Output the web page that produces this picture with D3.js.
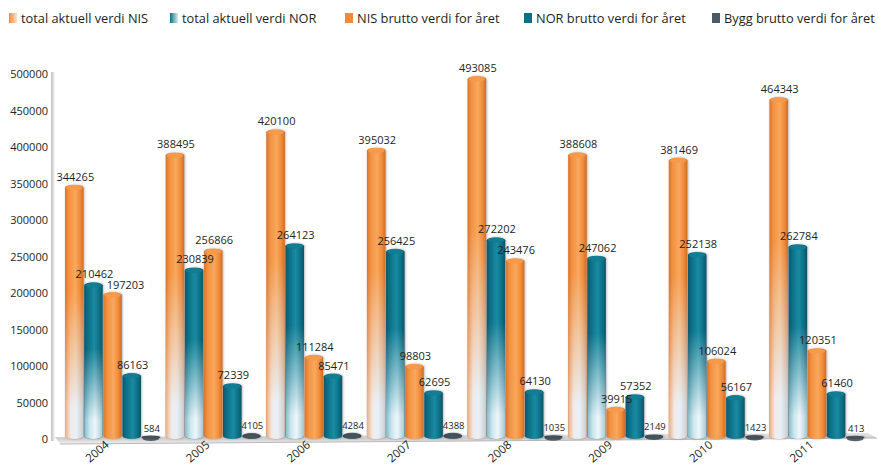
<!DOCTYPE html>
<html>
<head>
<meta charset="utf-8">
<script src="https://cdn.jsdelivr.net/npm/d3@7"></script>
<style>
  body { margin: 0; background: #fff; }
  svg { display: block; }
  text { font-family: "Open Sans", sans-serif; fill: #231f20; }
</style>
</head>
<body>
<svg id="chart" width="878" height="466"></svg>
<script>
// Yearly values (NOK)
const years = ["2004", "2005", "2006", "2007", "2008", "2009", "2010", "2011"];
const totalNIS   = [344265, 388495, 420100, 395032, 493085, 388608, 381469, 464343];
const totalNOR   = [210462, 230839, 264123, 256425, 272202, 247062, 252138, 262784];
const nisBrutto  = [197203, 256866, 111284, 98803, 243476, 39915, 106024, 120351];
const norBrutto  = [86163, 72339, 85471, 62695, 64130, 57352, 56167, 61460];
const byggBrutto = [584, 4105, 4284, 4388, 1035, 2149, 1423, 413];
const seriesNames = [
  "total aktuell verdi NIS",
  "total aktuell verdi NOR",
  "NIS brutto verdi for året",
  "NOR brutto verdi for året",
  "Bygg brutto verdi for året"
];
const yTicks = [0, 50000, 100000, 150000, 200000, 250000, 300000, 350000, 400000, 450000, 500000];

const seriesValues = [totalNIS, totalNOR, nisBrutto, norBrutto, byggBrutto];

const svg = d3.select("#chart");
const defs = svg.append("defs");

// Scales
const x = d3.scaleBand().domain(years).range([64, 866]).paddingInner(0.05).paddingOuter(0.01);
const xs = d3.scaleBand().domain(d3.range(seriesNames.length)).range([0, x.bandwidth()]);
const y = d3.scaleLinear().domain([0, 500000]).range([439, 74]);

// Cylinder shading gradients (left-to-right)
function hGrad(id, stops) {
  const g = defs.append("linearGradient").attr("id", id)
    .attr("x1", 0).attr("y1", 0).attr("x2", 1).attr("y2", 0);
  stops.forEach(([o, c, op]) => g.append("stop").attr("offset", o)
    .attr("stop-color", c).attr("stop-opacity", op == null ? 1 : op));
}
hGrad("cyl-orange", [[0, "#d8742c"], [0.2, "#f39140"], [0.55, "#f8a85e"], [0.8, "#f28c38"], [1, "#cf6c26"]]);
hGrad("cyl-teal",   [[0, "#07566a"], [0.2, "#0b6f86"], [0.55, "#1a8ba2"], [0.8, "#0c7189"], [1, "#065466"]]);
hGrad("cyl-dark",   [[0, "#2f3a42"], [0.5, "#55626c"], [1, "#2f3a42"]]);
hGrad("pale-orange", [[0, "#e9b894", 0.85], [0.3, "#f1eef0", 0.95], [0.6, "#e7f0f8", 1], [1, "#c9d6e0", 0.9]]);
hGrad("pale-teal",   [[0, "#9ccbd6", 0.85], [0.3, "#d6ecf2", 0.95], [0.6, "#eef6fa", 1], [1, "#b9d3dc", 0.9]]);
hGrad("wall", [[0, "#bdbdbd"], [0.6, "#e2e2e2"], [1, "#f7f7f7"]]);
hGrad("sw-orange", [[0, "#f28a38"], [1, "#fbe3cf"]]);
hGrad("sw-teal", [[0, "#0b6f86"], [1, "#d7eef3"]]);

// Vertical fade used as a mask for the pale lower part of the total bars
const fg = defs.append("linearGradient").attr("id", "fade-v")
  .attr("x1", 0).attr("y1", 0).attr("x2", 0).attr("y2", 1);
fg.append("stop").attr("offset", 0).attr("stop-color", "#000");
fg.append("stop").attr("offset", 0.42).attr("stop-color", "#000");
fg.append("stop").attr("offset", 0.88).attr("stop-color", "#fff");
fg.append("stop").attr("offset", 1).attr("stop-color", "#fff");
defs.append("mask").attr("id", "fade-mask")
  .attr("maskContentUnits", "objectBoundingBox")
  .append("rect").attr("width", 1).attr("height", 1).attr("fill", "url(#fade-v)");

const floorG = defs.append("linearGradient").attr("id", "floor")
  .attr("x1", 0).attr("y1", 0).attr("x2", 0).attr("y2", 1);
floorG.append("stop").attr("offset", 0).attr("stop-color", "#e6e6e6");
floorG.append("stop").attr("offset", 0.5).attr("stop-color", "#cfcfcf");
floorG.append("stop").attr("offset", 1).attr("stop-color", "#f2f2f2");

const sh = defs.append("filter").attr("id", "shadow")
  .attr("x", "-30%").attr("y", "-10%").attr("width", "160%").attr("height", "120%");
sh.append("feDropShadow").attr("dx", 0.8).attr("dy", 0).attr("stdDeviation", 1.3)
  .attr("flood-color", "#555").attr("flood-opacity", 0.45);

const bodyFill = ["url(#cyl-orange)", "url(#cyl-teal)", "url(#cyl-orange)", "url(#cyl-teal)", "url(#cyl-dark)"];
const paleFill = ["url(#pale-orange)", "url(#pale-teal)", null, null, null];
const capFill  = ["#f59a4c", "#137c93", "#f59a4c", "#137c93", "#44525c"];

// Back wall edge (value axis)
svg.append("rect").attr("x", 51).attr("y", y(500000) - 2).attr("width", 4)
  .attr("height", y(0) - y(500000) + 4).attr("fill", "url(#wall)");

// Floor
svg.append("path")
  .attr("d", `M55,${y(0) - 2} L868,${y(0) - 6} L877,${y(0) - 1} L60,${y(0) + 5} Z`)
  .attr("fill", "url(#floor)");
svg.append("path")
  .attr("d", `M60,${y(0) + 5} L877,${y(0) - 1}`)
  .attr("stroke", "#b8b8b8").attr("stroke-width", 1).attr("fill", "none");

// Value axis labels
svg.append("g").selectAll("text").data(yTicks).join("text")
  .attr("x", 48).attr("y", d => y(d) + 4)
  .attr("text-anchor", "end").attr("font-size", 11)
  .text(d => d);

// Bars
const rows = [];
years.forEach((yr, i) => seriesValues.forEach((vals, s) => rows.push({ yr, s, v: vals[i] })));

const bars = svg.append("g").selectAll("g.bar").data(rows).join("g")
  .attr("class", "bar")
  .attr("transform", d => `translate(${x(d.yr) + xs(d.s)},0)`);

const bw = xs.bandwidth() - 0.5;
bars.append("rect")
  .attr("x", 0).attr("width", bw)
  .attr("y", d => y(d.v) - 3)
  .attr("height", d => y(0) - y(d.v) + 3)
  .attr("rx", bw / 2).attr("ry", 3)
  .attr("fill", d => bodyFill[d.s])
  .attr("filter", "url(#shadow)");
bars.filter(d => paleFill[d.s])
  .append("rect")
  .attr("x", 0).attr("width", bw)
  .attr("y", d => y(d.v) - 3)
  .attr("height", d => y(0) - y(d.v) + 3)
  .attr("rx", bw / 2).attr("ry", 3)
  .attr("fill", d => paleFill[d.s])
  .attr("mask", "url(#fade-mask)");
bars.append("ellipse")
  .attr("cx", bw / 2).attr("cy", d => y(d.v))
  .attr("rx", bw / 2 - 1).attr("ry", 2.5)
  .attr("fill", d => capFill[d.s]).attr("opacity", 0.9);

// Value labels, drawn above all bars; a label that would sit on top of its
// left neighbour's label is pushed a little to the right.
const labelLayer = svg.append("g");
const labels = labelLayer.selectAll("text").data(rows).join("text")
  .attr("x", d => x(d.yr) + xs(d.s) + bw / 2 + 1)
  .attr("y", d => y(d.v) - 7)
  .attr("text-anchor", "middle")
  .attr("font-size", d => d.s === 4 ? 9.5 : 11)
  .text(d => d.v);
const nodes = labels.nodes();
for (let i = 1; i < nodes.length; i++) {
  if (rows[i].yr !== rows[i - 1].yr) continue;
  const a = nodes[i - 1].getBBox(), b = nodes[i].getBBox();
  const dy = Math.abs((a.y + a.height / 2) - (b.y + b.height / 2));
  const overlapX = a.x + a.width - b.x;
  if (dy < 11 && overlapX > 0 && b.x > a.x) {
    d3.select(nodes[i])
      .attr("x", +nodes[i].getAttribute("x") + Math.min(overlapX, 12))
      .attr("y", +nodes[i].getAttribute("y") + 1);
  }
}

// Category labels
svg.append("g").selectAll("text").data(years).join("text")
  .attr("transform", d => `translate(${x(d) + x.bandwidth() / 2 - 3},446) rotate(-40)`)
  .attr("text-anchor", "end").attr("font-size", 11.5)
  .text(d => d);

// Legend
const legendX = [9, 170, 345, 524, 712];
const swFill = ["url(#sw-orange)", "url(#sw-teal)", "#f28a38", "#0b6f86", "#4b5a65"];
const lg = svg.append("g").selectAll("g").data(seriesNames).join("g")
  .attr("transform", (d, i) => `translate(${legendX[i]},13)`);
lg.append("rect").attr("width", 8).attr("height", 10).attr("fill", (d, i) => swFill[i]);
lg.append("text").attr("x", 12).attr("y", 10).attr("font-size", 12.8).text(d => d);
</script>
</body>
</html>
